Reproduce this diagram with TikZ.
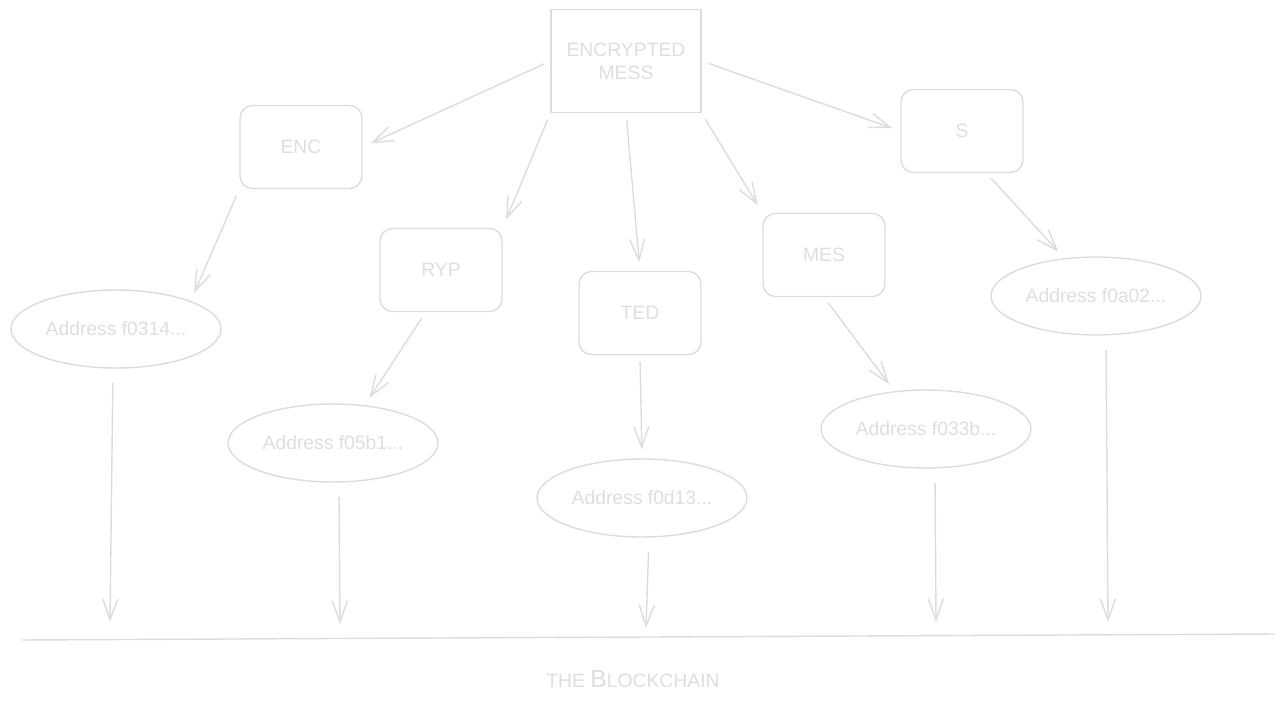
\documentclass[tikz,border=0pt]{standalone}
\usepackage{fontspec}
\setmainfont{Liberation Sans}
\usetikzlibrary{arrows.meta,shapes.geometric}
\definecolor{pale}{RGB}{220,220,220}
\definecolor{paletext}{RGB}{222,222,222}

\begin{document}
\begin{tikzpicture}[x=0.02cm,y=-0.02cm,
  every node/.style={text=paletext,font=\fontsize{11}{13}\selectfont},
  part/.style={draw=pale,line width=0.8pt,rounded corners=0.25cm,minimum width=2.44cm,minimum height=1.66cm},
  addr/.style={draw=pale,line width=0.8pt,ellipse,inner sep=0pt,minimum width=4.2cm,minimum height=1.56cm},
  arr/.style={draw=pale,line width=0.8pt,-{Straight Barb[length=0.42cm,width=0.3cm]},shorten <=4pt,shorten >=5pt}]
\useasboundingbox (0,0) rectangle (1285,703);
% the message and its pieces
\node[draw=pale,line width=0.8pt,minimum width=3cm,minimum height=2.06cm,align=center] (mess) at (626,61) {ENCRYPTED\\MESS};
\node[part] (enc) at (301,147) {ENC};
\node[part] (ryp) at (441,270) {RYP};
\node[part] (ted) at (640,313) {TED};
\node[part] (mes) at (824,255) {MES};
\node[part] (s) at (962,131) {S};
% addresses
\node[addr] (a1) at (116,329) {Address f0314...};
\node[addr] (a2) at (333,443) {Address f05b1...};
\node[addr] (a3) at (642,498) {Address f0d13...};
\node[addr] (a4) at (926,429) {Address f033b...};
\node[addr] (a5) at (1096,296) {Address f0a02...};
% the chain
\coordinate (chainL) at (22,640);
\coordinate (chainR) at (1275,634);
\draw[pale,line width=0.8pt] (chainL) -- (chainR);
\node (chain) at (633,679) {THE {\fontsize{14}{16}\selectfont B}LOCKCHAIN};
\coordinate (t1) at (110,622);
\coordinate (t2) at (340,624);
\coordinate (t3) at (646,628);
\coordinate (t4) at (936,622);
\coordinate (t5) at (1108,622);
\draw[arr] (mess.west) -- (enc.east);
\draw[arr] (mess.south west) -- (ryp.north east);
\draw[arr] (mess.south) -- (ted.north);
\draw[arr] (mess.south east) -- (mes.north west);
\draw[arr] (mess.east) -- (s.west);
\draw[arr] (enc.south west) -- (a1.north east);
\draw[arr] (ryp.250) -- (a2.50);
\draw[arr] (ted.south) -- (a3.north);
\draw[arr] (mes.south) -- (a4.130);
\draw[arr] (s.300) -- (a5.130);
\draw[arr,shorten <=8pt,shorten >=0pt] ([xshift=-0.06cm]a1.south) -- (t1);
\draw[arr,shorten <=8pt,shorten >=0pt] ([xshift=0.12cm]a2.south) -- (t2);
\draw[arr,shorten <=8pt,shorten >=0pt] ([xshift=0.14cm]a3.south) -- (t3);
\draw[arr,shorten <=8pt,shorten >=0pt] ([xshift=0.18cm]a4.south) -- (t4);
\draw[arr,shorten <=8pt,shorten >=0pt] ([xshift=0.2cm]a5.south) -- (t5);
\end{tikzpicture}
\end{document}
